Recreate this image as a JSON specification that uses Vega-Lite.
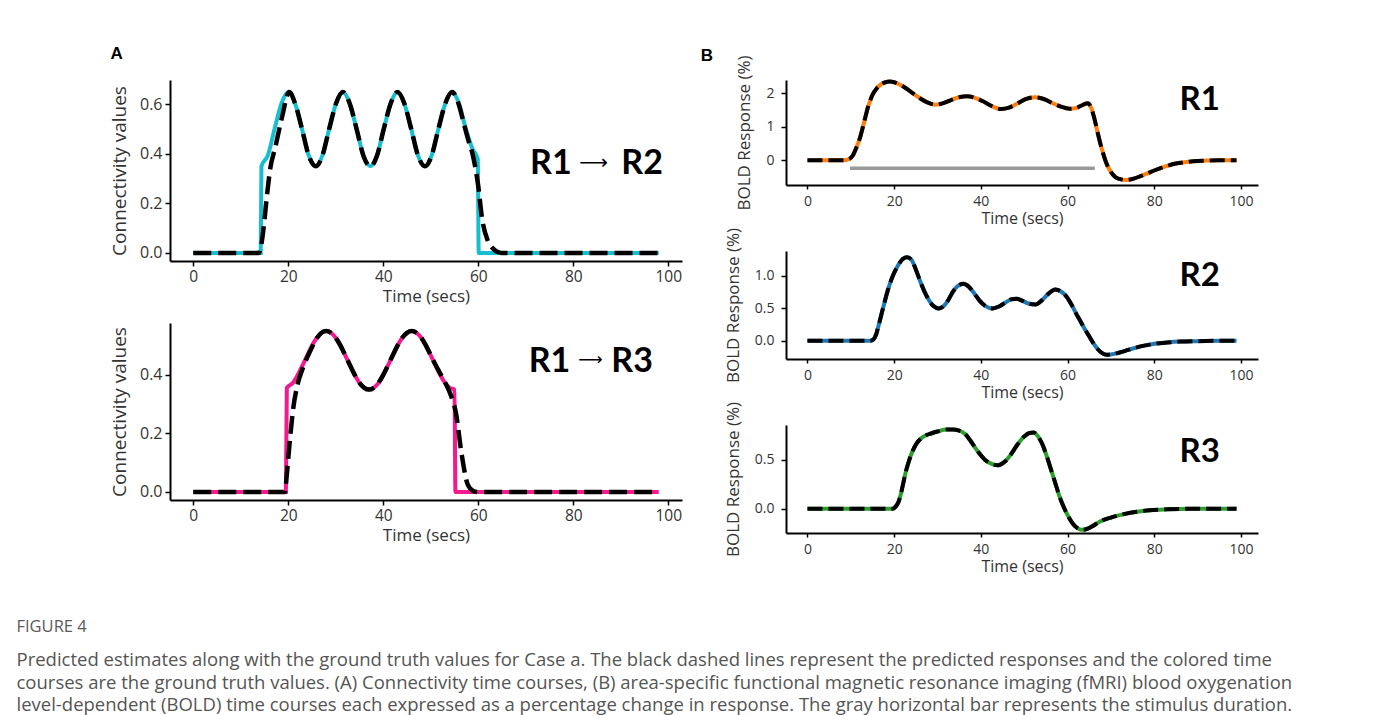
{
"$schema": "https://vega.github.io/schema/vega-lite/v6.json",
"padding": {"left": 16, "top": 44, "right": 5, "bottom": 5},
"background": "#ffffff",
"datasets": {
"a1g": [{"t":0,"v":0},{"t":14.2,"v":0},{"t":14.35,"v":0.35},{"t":15.7,"v":0.394},{"t":17.1,"v":0.5},{"t":18.6,"v":0.606},{"t":20,"v":0.65},{"t":21.4,"v":0.606},{"t":22.9,"v":0.5},{"t":24.3,"v":0.394},{"t":25.8,"v":0.35},{"t":27.2,"v":0.394},{"t":28.6,"v":0.5},{"t":30.1,"v":0.606},{"t":31.5,"v":0.65},{"t":32.9,"v":0.606},{"t":34.4,"v":0.5},{"t":35.8,"v":0.394},{"t":37.3,"v":0.35},{"t":38.7,"v":0.394},{"t":40.1,"v":0.5},{"t":41.6,"v":0.606},{"t":43,"v":0.65},{"t":44.4,"v":0.606},{"t":45.9,"v":0.5},{"t":47.3,"v":0.394},{"t":48.8,"v":0.35},{"t":50.2,"v":0.394},{"t":51.6,"v":0.5},{"t":53.1,"v":0.606},{"t":54.5,"v":0.65},{"t":55.9,"v":0.606},{"t":57.4,"v":0.5},{"t":58.8,"v":0.42},{"t":59.9,"v":0.38},{"t":60.1,"v":0},{"t":98,"v":0}],
"a1p": [{"t":0,"v":0},{"t":13.8,"v":0},{"t":14.2,"v":0.02},{"t":14.8,"v":0.1},{"t":15.5,"v":0.23},{"t":16.2,"v":0.34},{"t":17.3,"v":0.43},{"t":18.7,"v":0.55},{"t":20.2,"v":0.65},{"t":21.4,"v":0.606},{"t":22.9,"v":0.5},{"t":24.3,"v":0.394},{"t":25.8,"v":0.35},{"t":27.2,"v":0.394},{"t":28.6,"v":0.5},{"t":30.1,"v":0.606},{"t":31.5,"v":0.65},{"t":32.9,"v":0.606},{"t":34.4,"v":0.5},{"t":35.8,"v":0.394},{"t":37.3,"v":0.35},{"t":38.7,"v":0.394},{"t":40.1,"v":0.5},{"t":41.6,"v":0.606},{"t":43,"v":0.65},{"t":44.4,"v":0.606},{"t":45.9,"v":0.5},{"t":47.3,"v":0.394},{"t":48.8,"v":0.35},{"t":50.2,"v":0.394},{"t":51.6,"v":0.5},{"t":53.1,"v":0.606},{"t":54.5,"v":0.65},{"t":55.9,"v":0.6},{"t":57,"v":0.52},{"t":58,"v":0.45},{"t":58.8,"v":0.4},{"t":60,"v":0.27},{"t":60.8,"v":0.14},{"t":62,"v":0.05},{"t":63,"v":0.02},{"t":64,"v":0.005},{"t":65,"v":0},{"t":98,"v":0}],
"a2g": [{"t":0,"v":0},{"t":19.5,"v":0},{"t":19.7,"v":0.356},{"t":21,"v":0.373},{"t":22,"v":0.4},{"t":23,"v":0.433},{"t":24,"v":0.467},{"t":25,"v":0.5},{"t":26,"v":0.527},{"t":27,"v":0.544},{"t":28,"v":0.55},{"t":29,"v":0.544},{"t":30,"v":0.527},{"t":31,"v":0.5},{"t":32,"v":0.467},{"t":33,"v":0.433},{"t":34,"v":0.4},{"t":35,"v":0.373},{"t":36,"v":0.356},{"t":37,"v":0.35},{"t":38,"v":0.356},{"t":39,"v":0.373},{"t":40,"v":0.4},{"t":41,"v":0.433},{"t":42,"v":0.467},{"t":43,"v":0.5},{"t":44,"v":0.527},{"t":45,"v":0.544},{"t":46,"v":0.55},{"t":47,"v":0.544},{"t":48,"v":0.527},{"t":49,"v":0.5},{"t":50,"v":0.467},{"t":51,"v":0.433},{"t":52,"v":0.4},{"t":53,"v":0.373},{"t":54,"v":0.356},{"t":55,"v":0.35},{"t":55.2,"v":0},{"t":98,"v":0}],
"a2p": [{"t":0,"v":0},{"t":19.3,"v":0},{"t":19.7,"v":0.06},{"t":20.3,"v":0.17},{"t":21,"v":0.28},{"t":22,"v":0.37},{"t":23,"v":0.42},{"t":24,"v":0.46},{"t":25,"v":0.495},{"t":26,"v":0.525},{"t":27,"v":0.544},{"t":28,"v":0.55},{"t":29,"v":0.544},{"t":30,"v":0.527},{"t":31,"v":0.5},{"t":32,"v":0.467},{"t":33,"v":0.433},{"t":34,"v":0.4},{"t":35,"v":0.373},{"t":36,"v":0.356},{"t":37,"v":0.35},{"t":38,"v":0.356},{"t":39,"v":0.373},{"t":40,"v":0.4},{"t":41,"v":0.433},{"t":42,"v":0.467},{"t":43,"v":0.5},{"t":44,"v":0.527},{"t":45,"v":0.544},{"t":46,"v":0.55},{"t":47,"v":0.544},{"t":48,"v":0.527},{"t":49,"v":0.5},{"t":50,"v":0.467},{"t":51,"v":0.435},{"t":52,"v":0.405},{"t":53,"v":0.375},{"t":54,"v":0.34},{"t":55.3,"v":0.27},{"t":56.5,"v":0.13},{"t":57.8,"v":0.025},{"t":59,"v":0.003},{"t":60,"v":0},{"t":98,"v":0}],
"b1": [{"t":0,"v":0},{"t":5,"v":0},{"t":8.5,"v":0},{"t":9.5,"v":0.03},{"t":10.5,"v":0.15},{"t":11.3,"v":0.38},{"t":12,"v":0.62},{"t":13,"v":1.1},{"t":14,"v":1.6},{"t":15,"v":1.95},{"t":16,"v":2.15},{"t":17,"v":2.27},{"t":18,"v":2.33},{"t":19,"v":2.35},{"t":20,"v":2.33},{"t":22,"v":2.21},{"t":24,"v":2.03},{"t":26,"v":1.85},{"t":28,"v":1.71},{"t":29.5,"v":1.66},{"t":31,"v":1.69},{"t":33,"v":1.79},{"t":35,"v":1.88},{"t":36.8,"v":1.91},{"t":38.5,"v":1.87},{"t":40.5,"v":1.76},{"t":42.5,"v":1.62},{"t":44.7,"v":1.53},{"t":46.5,"v":1.57},{"t":48.5,"v":1.7},{"t":50.5,"v":1.83},{"t":52.5,"v":1.88},{"t":54.5,"v":1.83},{"t":56.5,"v":1.71},{"t":58.5,"v":1.6},{"t":60.5,"v":1.54},{"t":62,"v":1.56},{"t":63.5,"v":1.65},{"t":64.7,"v":1.7},{"t":65.5,"v":1.55},{"t":66.2,"v":1.25},{"t":67,"v":0.8},{"t":68,"v":0.3},{"t":69,"v":-0.1},{"t":70,"v":-0.35},{"t":71,"v":-0.5},{"t":72,"v":-0.56},{"t":73.4,"v":-0.59},{"t":75,"v":-0.56},{"t":77,"v":-0.47},{"t":79,"v":-0.36},{"t":81,"v":-0.26},{"t":83,"v":-0.17},{"t":85,"v":-0.1},{"t":87,"v":-0.06},{"t":89,"v":-0.03},{"t":92,"v":-0.01},{"t":95,"v":0},{"t":99,"v":0}],
"b2": [{"t":0,"v":0},{"t":5,"v":0},{"t":10,"v":0},{"t":14.5,"v":0},{"t":15.2,"v":0.02},{"t":15.8,"v":0.09},{"t":16.5,"v":0.26},{"t":17.5,"v":0.52},{"t":18.5,"v":0.77},{"t":19.5,"v":0.97},{"t":20.8,"v":1.15},{"t":22,"v":1.26},{"t":23,"v":1.29},{"t":24,"v":1.25},{"t":25,"v":1.1},{"t":26,"v":0.92},{"t":27,"v":0.76},{"t":28,"v":0.63},{"t":29,"v":0.54},{"t":30.3,"v":0.5},{"t":31.5,"v":0.54},{"t":32.5,"v":0.63},{"t":33.5,"v":0.75},{"t":34.6,"v":0.84},{"t":36,"v":0.88},{"t":37.3,"v":0.83},{"t":38.5,"v":0.73},{"t":39.7,"v":0.62},{"t":41,"v":0.54},{"t":42.7,"v":0.5},{"t":44.2,"v":0.53},{"t":45.7,"v":0.59},{"t":47,"v":0.64},{"t":48.2,"v":0.65},{"t":49.5,"v":0.62},{"t":51,"v":0.575},{"t":52.6,"v":0.56},{"t":54,"v":0.62},{"t":55.5,"v":0.72},{"t":57.2,"v":0.79},{"t":58.5,"v":0.76},{"t":59.8,"v":0.68},{"t":61,"v":0.55},{"t":62,"v":0.42},{"t":63,"v":0.3},{"t":64,"v":0.18},{"t":65,"v":0.07},{"t":66,"v":-0.04},{"t":67,"v":-0.13},{"t":68,"v":-0.19},{"t":69,"v":-0.215},{"t":70,"v":-0.21},{"t":72,"v":-0.18},{"t":74,"v":-0.14},{"t":76,"v":-0.1},{"t":78,"v":-0.07},{"t":80,"v":-0.045},{"t":83,"v":-0.025},{"t":86,"v":-0.012},{"t":90,"v":-0.005},{"t":95,"v":0},{"t":99,"v":0}],
"b3": [{"t":0,"v":0},{"t":5,"v":0},{"t":10,"v":0},{"t":15,"v":0},{"t":19.6,"v":0},{"t":20.3,"v":0.02},{"t":21,"v":0.07},{"t":21.5,"v":0.14},{"t":22,"v":0.24},{"t":22.7,"v":0.38},{"t":23.5,"v":0.5},{"t":24.2,"v":0.585},{"t":25.2,"v":0.67},{"t":26.2,"v":0.72},{"t":27.5,"v":0.755},{"t":28.5,"v":0.77},{"t":30,"v":0.79},{"t":32,"v":0.81},{"t":33.5,"v":0.81},{"t":35,"v":0.8},{"t":36.5,"v":0.76},{"t":38,"v":0.67},{"t":39.5,"v":0.575},{"t":41,"v":0.5},{"t":42.5,"v":0.46},{"t":44,"v":0.445},{"t":45.5,"v":0.48},{"t":47,"v":0.56},{"t":48.5,"v":0.66},{"t":50,"v":0.74},{"t":51.2,"v":0.775},{"t":52.2,"v":0.78},{"t":53.2,"v":0.74},{"t":54.2,"v":0.66},{"t":55.2,"v":0.54},{"t":56.2,"v":0.4},{"t":57.2,"v":0.26},{"t":58.2,"v":0.12},{"t":59.2,"v":0.01},{"t":60.2,"v":-0.08},{"t":61.2,"v":-0.15},{"t":62.2,"v":-0.195},{"t":63.3,"v":-0.215},{"t":64.3,"v":-0.21},{"t":65.5,"v":-0.185},{"t":67.5,"v":-0.13},{"t":70,"v":-0.09},{"t":73,"v":-0.055},{"t":76,"v":-0.03},{"t":79,"v":-0.015},{"t":83,"v":-0.006},{"t":88,"v":0},{"t":99,"v":0}]
},
"title": {
  "text": "FIGURE 4",
  "subtitle": [
    "Predicted estimates along with the ground truth values for Case a. The black dashed lines represent the predicted responses and the colored time",
    "courses are the ground truth values. (A) Connectivity time courses, (B) area-specific functional magnetic resonance imaging (fMRI) blood oxygenation",
    "level-dependent (BOLD) time courses each expressed as a percentage change in response. The gray horizontal bar represents the stimulus duration."
  ],
  "orient": "bottom", "anchor": "start", "frame": "bounds", "dx": -94, "offset": 44.5,
  "font": "Open Sans", "fontSize": 16.5, "fontWeight": "normal", "color": "#5a5a5a",
  "subtitleFont": "Open Sans", "subtitleFontSize": 18.5, "subtitleColor": "#555555",
  "subtitleLineHeight": 22.7, "subtitlePadding": 16
},
"spacing": 18,
"hconcat": [
  {
    "title": {"text": "A", "anchor": "start", "frame": "bounds", "font": "Liberation Sans", "fontSize": 17, "fontWeight": "bold", "color": "#000000", "offset": 17.5},
    "bounds": "flush",
    "spacing": 62,
    "vconcat": [
      {
        "width": 512, "height": 181,
        "encoding": {
          "x": {"field": "t", "type": "quantitative", "scale": {"domain": [-4.9, 102.9], "nice": false, "zero": false},
                "axis": {"values": [0, 20, 40, 60, 80, 100], "title": "Time (secs)", "labelFontSize": 15.5, "titleFontSize": 17, "tickSize": 5, "labelPadding": 3, "titlePadding": 4}},
          "y": {"field": "v", "type": "quantitative", "scale": {"domain": [-0.0325, 0.6987], "nice": false, "zero": false},
                "axis": {"values": [0, 0.2, 0.4, 0.6], "format": ".1f", "title": "Connectivity values", "labelFontSize": 16, "titleFontSize": 19, "tickSize": 5, "labelPadding": 3, "titlePadding": 10}}
        },
        "layer": [
          {"data": {"name": "a1g"}, "mark": {"type": "line", "color": "#17becf", "strokeWidth": 4, "interpolate": "monotone"}, "encoding": {}},
          {"data": {"name": "a1p"}, "mark": {"type": "line", "color": "#000000", "strokeWidth": 4.5, "strokeDash": [18, 7], "interpolate": "monotone"}, "encoding": {}},
          {"data": {"values": [{"t": 75.3, "v": 0.36, "label": "R1"}, {"t": 94.5, "v": 0.36, "label": "R2"}]}, "mark": {"type": "text", "font": "Lato", "fontWeight": "bold", "fontSize": 34, "color": "#000000", "baseline": "middle"}, "encoding": {"text": {"field": "label"}}},
          {"data": {"values": [{"t": 84.3, "v": 0.362, "label": "⟶"}]}, "mark": {"type": "text", "font": "DejaVu Sans", "fontSize": 20, "color": "#000000", "baseline": "middle"}, "encoding": {"text": {"field": "label"}}}
        ]
      },
      {
        "width": 512, "height": 177,
        "encoding": {
          "x": {"field": "t", "type": "quantitative", "scale": {"domain": [-4.9, 102.9], "nice": false, "zero": false},
                "axis": {"values": [0, 20, 40, 60, 80, 100], "title": "Time (secs)", "labelFontSize": 15.5, "titleFontSize": 17, "tickSize": 5, "labelPadding": 3, "titlePadding": 4}},
          "y": {"field": "v", "type": "quantitative", "scale": {"domain": [-0.0275, 0.5775], "nice": false, "zero": false},
                "axis": {"values": [0, 0.2, 0.4], "format": ".1f", "title": "Connectivity values", "labelFontSize": 16, "titleFontSize": 19, "tickSize": 5, "labelPadding": 3, "titlePadding": 10}}
        },
        "layer": [
          {"data": {"name": "a2g"}, "mark": {"type": "line", "color": "#f5198f", "strokeWidth": 4, "interpolate": "monotone"}, "encoding": {}},
          {"data": {"name": "a2p"}, "mark": {"type": "line", "color": "#000000", "strokeWidth": 4.5, "strokeDash": [18, 7], "interpolate": "monotone"}, "encoding": {}},
          {"data": {"values": [{"t": 75, "v": 0.445, "label": "R1"}, {"t": 92.4, "v": 0.445, "label": "R3"}]}, "mark": {"type": "text", "font": "Lato", "fontWeight": "bold", "fontSize": 34, "color": "#000000", "baseline": "middle"}, "encoding": {"text": {"field": "label"}}},
          {"data": {"values": [{"t": 83.6, "v": 0.45, "label": "⟶"}]}, "mark": {"type": "text", "font": "DejaVu Sans", "fontSize": 17, "color": "#000000", "baseline": "middle"}, "encoding": {"text": {"field": "label"}}}
        ]
      }
    ]
  },
  {
    "title": {"text": "B", "anchor": "start", "frame": "bounds", "font": "Liberation Sans", "fontSize": 17, "fontWeight": "bold", "color": "#000000", "offset": -10, "dx": -23.5},
    "bounds": "flush",
    "spacing": 66,
    "vconcat": [
      {
        "width": 472, "height": 105,
        "encoding": {
          "x": {"field": "t", "type": "quantitative", "scale": {"domain": [-4.95, 103.95], "nice": false, "zero": false},
                "axis": {"values": [0, 20, 40, 60, 80, 100], "title": "Time (secs)", "labelFontSize": 14, "titleFontSize": 16, "tickSize": 4, "labelPadding": 5, "titlePadding": 2}},
          "y": {"field": "v", "type": "quantitative", "scale": {"domain": [-0.74, 2.397], "nice": false, "zero": false},
                "axis": {"values": [0, 1, 2], "format": "d", "title": "BOLD Response (%)", "labelFontSize": 14, "titleFontSize": 17, "tickSize": 5, "labelPadding": 7, "titlePadding": 12}}
        },
        "layer": [
          {"data": {"values": [{"t": 9.8, "t2": 66.3, "v": -0.24}]}, "mark": {"type": "rule", "color": "#999999", "strokeWidth": 3.5}, "encoding": {"x2": {"field": "t2"}}},
          {"data": {"name": "b1"}, "mark": {"type": "line", "color": "#ff7f0e", "strokeWidth": 4, "interpolate": "monotone"}, "encoding": {}},
          {"data": {"name": "b1"}, "mark": {"type": "line", "color": "#000000", "strokeWidth": 4, "strokeDash": [15, 6], "interpolate": "monotone"}, "encoding": {}},
          {"data": {"values": [{"t": 90.5, "v": 1.81, "label": "R1"}]}, "mark": {"type": "text", "font": "Lato", "fontWeight": "bold", "fontSize": 33, "color": "#000000", "baseline": "middle"}, "encoding": {"text": {"field": "label"}}}
        ]
      },
      {
        "width": 472, "height": 108,
        "encoding": {
          "x": {"field": "t", "type": "quantitative", "scale": {"domain": [-4.95, 103.95], "nice": false, "zero": false},
                "axis": {"values": [0, 20, 40, 60, 80, 100], "title": "Time (secs)", "labelFontSize": 14, "titleFontSize": 16, "tickSize": 4, "labelPadding": 5, "titlePadding": 2}},
          "y": {"field": "v", "type": "quantitative", "scale": {"domain": [-0.28, 1.385], "nice": false, "zero": false},
                "axis": {"values": [0, 0.5, 1], "format": ".1f", "title": "BOLD Response (%)", "labelFontSize": 14, "titleFontSize": 17, "tickSize": 5, "labelPadding": 7, "titlePadding": 12}}
        },
        "layer": [
          {"data": {"name": "b2"}, "mark": {"type": "line", "color": "#1f77b4", "strokeWidth": 4, "interpolate": "monotone"}, "encoding": {}},
          {"data": {"name": "b2"}, "mark": {"type": "line", "color": "#000000", "strokeWidth": 4, "strokeDash": [15, 6], "interpolate": "monotone"}, "encoding": {}},
          {"data": {"values": [{"t": 90.5, "v": 1.0, "label": "R2"}]}, "mark": {"type": "text", "font": "Lato", "fontWeight": "bold", "fontSize": 33, "color": "#000000", "baseline": "middle"}, "encoding": {"text": {"field": "label"}}}
        ]
      },
      {
        "width": 472, "height": 108,
        "encoding": {
          "x": {"field": "t", "type": "quantitative", "scale": {"domain": [-4.95, 103.95], "nice": false, "zero": false},
                "axis": {"values": [0, 20, 40, 60, 80, 100], "title": "Time (secs)", "labelFontSize": 14, "titleFontSize": 16, "tickSize": 4, "labelPadding": 5, "titlePadding": 2}},
          "y": {"field": "v", "type": "quantitative", "scale": {"domain": [-0.248, 0.857], "nice": false, "zero": false},
                "axis": {"values": [0, 0.5], "format": ".1f", "title": "BOLD Response (%)", "labelFontSize": 14, "titleFontSize": 17, "tickSize": 5, "labelPadding": 7, "titlePadding": 12}}
        },
        "layer": [
          {"data": {"name": "b3"}, "mark": {"type": "line", "color": "#2ca02c", "strokeWidth": 4, "interpolate": "monotone"}, "encoding": {}},
          {"data": {"name": "b3"}, "mark": {"type": "line", "color": "#000000", "strokeWidth": 4, "strokeDash": [15, 6], "interpolate": "monotone"}, "encoding": {}},
          {"data": {"values": [{"t": 90.5, "v": 0.585, "label": "R3"}]}, "mark": {"type": "text", "font": "Lato", "fontWeight": "bold", "fontSize": 33, "color": "#000000", "baseline": "middle"}, "encoding": {"text": {"field": "label"}}}
        ]
      }
    ]
  }
],
"config": {
  "view": {"stroke": null},
  "font": "Open Sans",
  "axis": {"domainColor": "#000000", "domainWidth": 2, "tickColor": "#000000", "tickWidth": 1.5, "grid": false, "labelColor": "#333333", "titleColor": "#333333", "labelFont": "Open Sans", "titleFont": "Open Sans", "titleFontWeight": "normal", "labelFlush": false, "labelOverlap": false}
}
}
